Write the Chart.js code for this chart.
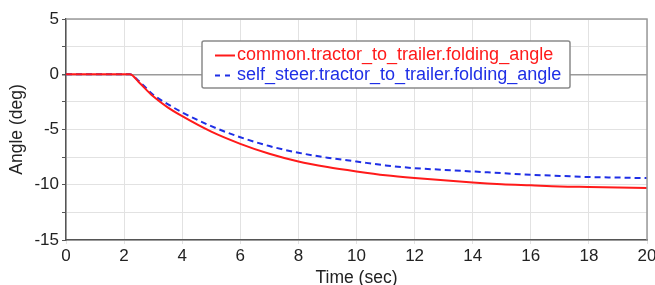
<!DOCTYPE html>
<html lang="en">
  <head>
    <meta charset="UTF-8" />
    <title>Folding angle</title>
    <script src="https://cdn.jsdelivr.net/npm/chart.js"></script>
    <style>
      body {
        margin: 0;
        padding: 0;
        background: #fff;
      }
      .wrap {
        width: 655px;
        height: 285px;
        position: relative;
      }
    </style>
  </head>
  <body>
    <div class="wrap">
      <canvas id="angleChart"></canvas>
    </div>

    <script>
      // time samples (sec) and the two folding angle series (deg)
      const timeSec = [0, 2.2, 2.5, 3, 3.5, 4, 5, 6, 7, 8, 9, 10, 11, 12, 13, 14, 15, 16, 17, 18, 19, 20];
      const commonAngle = [0, 0, -0.7, -2.0, -3.0, -3.8, -5.2, -6.3, -7.2, -7.9, -8.4, -8.8, -9.15, -9.4, -9.6, -9.8, -9.95, -10.05, -10.15, -10.2, -10.25, -10.3];
      const selfSteerAngle = [0, 0, -0.6, -1.85, -2.7, -3.45, -4.7, -5.7, -6.5, -7.1, -7.55, -7.9, -8.25, -8.5, -8.65, -8.8, -8.95, -9.1, -9.2, -9.3, -9.35, -9.4];
      const seriesLabels = ["common.tractor_to_trailer.folding_angle", "self_steer.tractor_to_trailer.folding_angle"];
      const xTitle = "Time (sec)";
      const yTitle = "Angle (deg)";

      const FONT = "Arial, 'Liberation Sans', sans-serif";
      const RED = "#ff1a1a";
      const BLUE = "#1f2fe6";

      const toPoints = (ys) => timeSec.map((t, i) => ({ x: t, y: ys[i] }));

      // frame, axis titles and the boxed legend
      const decorations = {
        id: "decorations",
        afterDraw(chart) {
          const { ctx, chartArea: a } = chart;
          ctx.save();
          ctx.strokeStyle = "#9a9a9a";
          ctx.lineWidth = 1.5;
          ctx.beginPath();
          ctx.moveTo(a.left, a.top);
          ctx.lineTo(a.right, a.top);
          ctx.lineTo(a.right, a.bottom);
          ctx.stroke();

          ctx.fillStyle = "#222";
          ctx.font = "17.5px " + FONT;
          ctx.textAlign = "center";
          ctx.textBaseline = "middle";
          ctx.fillText(xTitle, (a.left + a.right) / 2, 278);
          ctx.translate(17, (a.top + a.bottom) / 2);
          ctx.rotate(-Math.PI / 2);
          ctx.fillText(yTitle, 0, 0);
          ctx.restore();

          // legend
          ctx.save();
          const bx = 202, by = 41, bw = 368, bh = 47;
          ctx.fillStyle = "#fff";
          ctx.strokeStyle = "#8a8a8a";
          ctx.lineWidth = 1.5;
          ctx.beginPath();
          ctx.roundRect(bx, by, bw, bh, 2);
          ctx.fill();
          ctx.stroke();
          ctx.font = "18px " + FONT;
          ctx.textAlign = "left";
          ctx.textBaseline = "middle";
          chart.data.datasets.forEach((ds, i) => {
            const y = 55.5 + i * 20;
            ctx.strokeStyle = ds.borderColor;
            ctx.lineWidth = 2;
            ctx.setLineDash(ds.borderDash ? [5, 5] : []);
            ctx.beginPath();
            ctx.moveTo(215, y);
            ctx.lineTo(235, y);
            ctx.stroke();
            ctx.setLineDash([]);
            ctx.fillStyle = ds.borderColor;
            ctx.fillText(ds.label, 237, y);
          });
          ctx.restore();
        },
      };

      new Chart(document.getElementById("angleChart"), {
        type: "line",
        data: {
          datasets: [
            {
              label: seriesLabels[0],
              data: toPoints(commonAngle),
              borderColor: RED,
              borderWidth: 2,
              pointRadius: 0,
              cubicInterpolationMode: "monotone",
            },
            {
              label: seriesLabels[1],
              data: toPoints(selfSteerAngle),
              borderColor: BLUE,
              borderWidth: 2,
              borderDash: [6, 4],
              pointRadius: 0,
              cubicInterpolationMode: "monotone",
            },
          ],
        },
        options: {
          responsive: true,
          maintainAspectRatio: false,
          animation: false,
          layout: { padding: { top: 19, right: 8, left: 0, bottom: 0 } },
          plugins: {
            legend: { display: false },
            tooltip: { enabled: false },
          },
          scales: {
            x: {
              type: "linear",
              min: 0,
              max: 20,
              ticks: {
                stepSize: 2,
                color: "#222",
                font: { family: FONT, size: 17 },
                padding: 2,
                maxRotation: 0,
              },
              grid: { color: "#e2e2e2", lineWidth: 1, tickLength: 4 },
              border: { color: "#555", width: 1.5 },
              afterFit(scale) {
                scale.height = 45;
                scale.paddingRight = 0;
              },
            },
            y: {
              min: -15,
              max: 5,
              ticks: {
                stepSize: 2.5,
                color: "#222",
                font: { family: FONT, size: 17 },
                padding: 3,
                callback: (v) => (v % 5 === 0 ? v : ""),
              },
              grid: {
                color: (c) => (c.tick && c.tick.value === 0 ? "#9a9a9a" : "#e2e2e2"),
                lineWidth: (c) => (c.tick && c.tick.value === 0 ? 1.5 : 1),
                tickColor: "#555",
                tickLength: 4,
              },
              border: { color: "#555", width: 1.5 },
              afterFit(scale) {
                scale.width = 66;
              },
            },
          },
        },
        plugins: [decorations],
      });
    </script>
  </body>
</html>
